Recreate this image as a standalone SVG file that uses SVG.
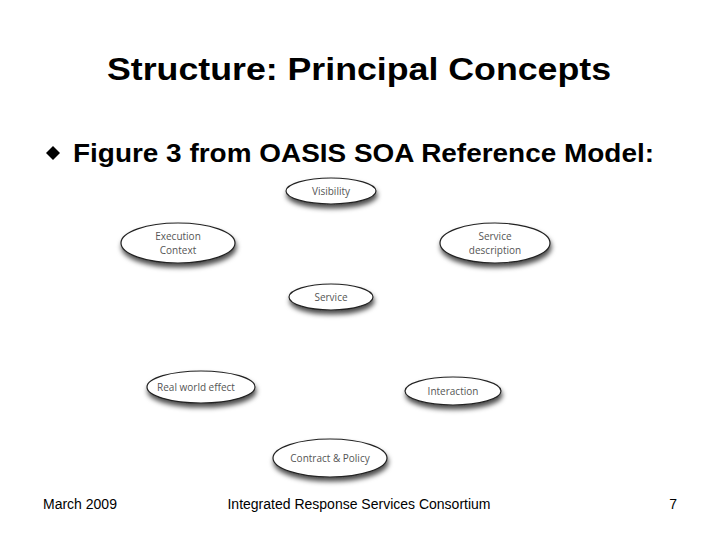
<svg xmlns="http://www.w3.org/2000/svg" width="720" height="540" viewBox="0 0 720 540">
<defs>
<filter id="sh" x="-30%" y="-50%" width="160%" height="220%"><feDropShadow dx="1" dy="4" stdDeviation="2.5" flood-color="#000" flood-opacity="0.7"/></filter>
<style>
.n ellipse{fill:#fff;stroke:#222;stroke-width:1.2;filter:url(#sh)}
.n text{font-family:"Open Sans","Liberation Sans",sans-serif;font-size:10px;fill:#555;text-anchor:middle}
.t{font-family:"Liberation Sans",Arial,sans-serif;font-weight:bold;fill:#000}
.f{font-family:"Liberation Sans",Arial,sans-serif;font-size:14px;fill:#000}
</style>
</defs>
<rect width="720" height="540" fill="#fff"/>
<text class="t" x="107" y="80" font-size="31" textLength="504" lengthAdjust="spacingAndGlyphs">Structure: Principal Concepts</text>
<path d="M46 153 l7 -7 l7 7 l-7 7z" fill="#000"/>
<text class="t" x="73" y="162" font-size="25" textLength="581" lengthAdjust="spacingAndGlyphs">Figure 3 from OASIS SOA Reference Model:</text>
<g id="connectors"></g>
<g id="visibility" class="n"><ellipse cx="331" cy="191" rx="45" ry="13"/><text x="331" y="195">Visibility</text></g>
<g id="execution" class="n"><ellipse cx="178" cy="243" rx="57" ry="20"/><text x="178" y="240">Execution</text><text x="178" y="254">Context</text></g>
<g id="servicedesc" class="n"><ellipse cx="495" cy="243" rx="55" ry="20"/><text x="495" y="240">Service</text><text x="495" y="254">description</text></g>
<g id="service" class="n"><ellipse cx="331" cy="297" rx="42" ry="13"/><text x="331" y="301">Service</text></g>
<g id="realworld" class="n"><ellipse cx="201" cy="387" rx="54" ry="16"/><text x="196" y="391">Real world effect</text></g>
<g id="interaction" class="n"><ellipse cx="453" cy="391" rx="48" ry="14"/><text x="453" y="395">Interaction</text></g>
<g id="contract" class="n"><ellipse cx="330" cy="458" rx="57" ry="19"/><text x="330" y="462">Contract &amp; Policy</text></g>
<text class="f" x="43" y="509">March 2009</text>
<text class="f" x="359" y="509" text-anchor="middle">Integrated Response Services Consortium</text>
<text class="f" x="677" y="509" text-anchor="end">7</text>
</svg>
